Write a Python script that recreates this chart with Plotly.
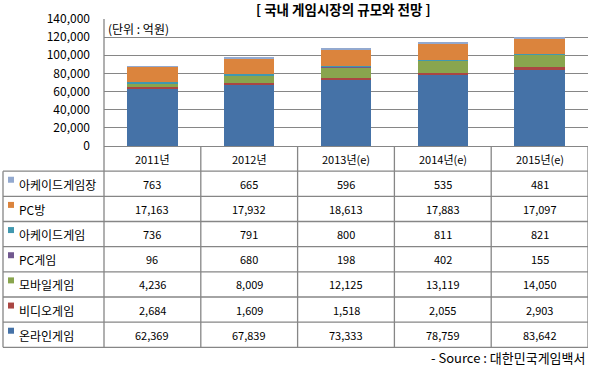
import plotly.graph_objects as go

# ---- data ----
years = ["2011년", "2012년", "2013년(e)", "2014년(e)", "2015년(e)"]
series_names = ["온라인게임", "비디오게임", "모바일게임", "PC게임", "아케이드게임", "PC방", "아케이드게임장"]
online = [62369, 67839, 73333, 78759, 83642]
video = [2684, 1609, 1518, 2055, 2903]
mobile = [4236, 8009, 12125, 13119, 14050]
pc_game = [96, 680, 198, 402, 155]
arcade = [736, 791, 800, 811, 821]
pc_bang = [17163, 17932, 18613, 17883, 17097]
arcade_hall = [763, 665, 596, 535, 481]
series_values = [online, video, mobile, pc_game, arcade, pc_bang, arcade_hall]
colors = ["#4572A7", "#AA4643", "#89A54E", "#71588F", "#4198AF", "#DB843D", "#93A9CF"]
y_ticks = [0, 20000, 40000, 60000, 80000, 100000, 120000, 140000]

# ---- layout constants (pixels) ----
W, H = 592, 370
PLOT_L, PLOT_R = 104, 588
PLOT_T, ZERO_Y = 19, 146
TABLE_L = 3
TABLE_B = 347.3
N_ROWS = 1 + len(series_names)
ROW_H = (TABLE_B - ZERO_Y) / N_ROWS
GRID = "#868686"
FONT = "Noto Sans CJK KR"


def px(x):
    return x / W


def py(y):
    return 1 - y / H


fig = go.Figure()
for name, vals, col in zip(series_names, series_values, colors):
    fig.add_trace(go.Bar(x=years, y=vals, name=name, marker=dict(color=col, line=dict(width=0)),
                         showlegend=False))

shapes = []
annotations = []

# table row lines (horizontal)
for i in range(1, N_ROWS + 1):
    yy = ZERO_Y + i * ROW_H
    shapes.append(dict(type="line", xref="paper", yref="paper", x0=px(TABLE_L), x1=px(PLOT_R),
                       y0=py(yy), y1=py(yy), line=dict(color=GRID, width=1.3)))
# left border of table body
shapes.append(dict(type="line", xref="paper", yref="paper", x0=px(TABLE_L), x1=px(TABLE_L),
                   y0=py(ZERO_Y + ROW_H), y1=py(TABLE_B), line=dict(color=GRID, width=1.3)))
# left border of plot + table
shapes.append(dict(type="line", xref="paper", yref="paper", x0=px(PLOT_L), x1=px(PLOT_L),
                   y0=py(PLOT_T), y1=py(TABLE_B), line=dict(color=GRID, width=1.3)))
# column separators in table (category boundaries)
for k in range(len(years)):
    shapes.append(dict(type="line", xref="x", yref="paper", x0=k + 0.5, x1=k + 0.5,
                       y0=py(ZERO_Y), y1=py(TABLE_B), line=dict(color=GRID, width=1.3)))

# header row
for k, yr in enumerate(years):
    annotations.append(dict(x=yr, y=py(ZERO_Y + ROW_H / 2), xref="x", yref="paper", text=yr,
                            showarrow=False, font=dict(family=FONT, size=11, color="#000"),
                            xanchor="center", yanchor="middle"))

# table body: top row is last series
table_order = list(range(len(series_names)))[::-1]
for r, si in enumerate(table_order):
    yc = ZERO_Y + (r + 1.5) * ROW_H
    # legend swatch
    shapes.append(dict(type="rect", xref="paper", yref="paper", x0=px(8), x1=px(14),
                       y0=py(yc - 1), y1=py(yc - 7), fillcolor=colors[si], line=dict(width=0)))
    annotations.append(dict(x=px(17), y=py(yc + 0.5), xref="paper", yref="paper", text=series_names[si],
                            showarrow=False, font=dict(family=FONT, size=12, color="#000"),
                            xanchor="left", yanchor="middle"))
    for k, yr in enumerate(years):
        annotations.append(dict(x=yr, y=py(yc), xref="x", yref="paper",
                                text=f"{series_values[si][k]:,}", showarrow=False,
                                font=dict(family=FONT, size=11, color="#000"),
                                xanchor="center", yanchor="middle"))

# title, unit and source
annotations.append(dict(x=px((PLOT_L + PLOT_R) / 2 - 3), y=py(9.5), xref="paper", yref="paper",
                        text="<b>[ 국내 게임시장의 규모와 전망 ]</b>", showarrow=False, borderpad=0,
                        font=dict(family=FONT, size=13.5, color="#000"), xanchor="center", yanchor="middle"))
annotations.append(dict(x=px(106), y=py(29), xref="paper", yref="paper", text="(단위 : 억원)",
                        showarrow=False, font=dict(family=FONT, size=12, color="#000"),
                        xanchor="left", yanchor="middle"))
annotations.append(dict(x=px(587), y=py(357.5), xref="paper", yref="paper", text="- Source : 대한민국게임백서",
                        showarrow=False, font=dict(family=FONT, size=13, color="#000"),
                        xanchor="right", yanchor="middle"))

fig.update_layout(
    width=W, height=H, autosize=False,
    margin=dict(l=0, r=0, t=0, b=0, pad=0, autoexpand=False),
    paper_bgcolor="white", plot_bgcolor="white",
    barmode="stack", bargap=0.48,
    xaxis=dict(domain=[px(PLOT_L), px(PLOT_R)], range=[-0.5, len(years) - 0.5], showticklabels=False,
               showgrid=False, zeroline=False, showline=False, fixedrange=True, automargin=False),
    yaxis=dict(domain=[py(ZERO_Y), py(PLOT_T)], range=[0, 140000], tickvals=y_ticks, tickformat=",",
               showgrid=True, gridcolor=GRID, gridwidth=1.3, zeroline=True, zerolinecolor=GRID,
               zerolinewidth=1.3, showline=False, ticks="", ticklabelstandoff=13, automargin=False,
               tickfont=dict(family=FONT, size=12, color="#000"), fixedrange=True),
    shapes=shapes, annotations=annotations,
    font=dict(family=FONT),
)

post = (
    "var de=document.documentElement;de.style.margin='0';de.style.padding='0';de.style.overflow='hidden';"
    "var b=document.body;b.style.margin='0';b.style.padding='0';b.style.overflow='hidden';"
    "var g=document.getElementById('{plot_id}');g.style.position='absolute';g.style.top='0px';g.style.left='0px';"
)
fig.write_html("out.html", config={"displayModeBar": False}, post_script=post)
